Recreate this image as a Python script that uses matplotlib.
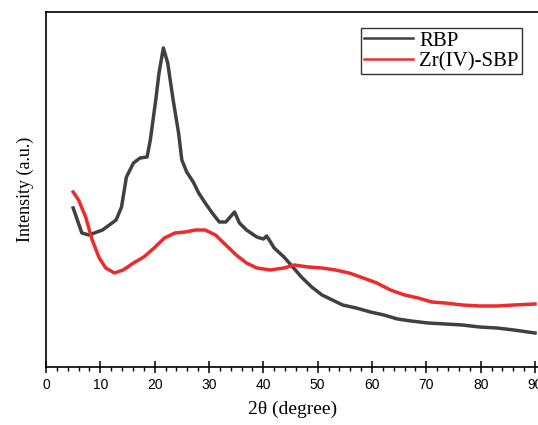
import matplotlib
matplotlib.use("Agg")
import matplotlib.pyplot as plt
from matplotlib.ticker import MultipleLocator

# RBP curve (2theta, intensity in arbitrary units)
rbp_x = [5.0, 6.6, 7.9, 10.4, 12.9, 13.9, 14.8, 16.1, 17.3, 18.6, 19.2, 20.2, 20.8, 21.6,
         22.4, 23.4, 24.4, 25.0, 25.9, 27.1, 28.1, 29.3, 30.6, 31.9, 33.1, 34.7, 35.6, 36.9,
         38.8, 40.0, 40.6, 41.2, 42.0, 43.8, 45.1, 47.0, 48.9, 50.8, 52.7, 54.6, 57.1, 59.7,
         62.2, 64.7, 67.2, 70.3, 73.5, 76.6, 79.8, 83.0, 86.1, 90.0]
rbp_y = [159, 134, 132, 137, 147, 160, 190, 204, 209, 210, 227, 267, 294, 319,
         304, 267, 234, 207, 195, 185, 174, 164, 154, 145, 145, 155, 144, 137,
         130, 128, 131, 126, 119, 110, 102, 90, 80, 72, 67, 62, 59, 55,
         52, 48, 46, 44, 43, 42, 40, 39, 37, 34]

# Zr(IV)-SBP curve
zr_x = [5.0, 6.0, 7.3, 8.5, 9.8, 11.0, 12.6, 14.2, 16.1, 18.0, 19.9, 21.8, 23.7, 25.6,
        27.5, 29.3, 31.2, 33.1, 35.0, 36.9, 38.8, 41.3, 43.8, 45.7, 48.3, 50.8, 53.3, 55.8,
        58.4, 60.9, 63.4, 66.0, 68.5, 71.0, 73.5, 76.6, 79.8, 83.0, 86.1, 90.0]
zr_y = [175, 167, 150, 127, 109, 99, 94, 97, 104, 110, 119, 129, 134, 135,
        137, 137, 132, 122, 112, 104, 99, 97, 99, 102, 100, 99, 97, 94,
        89, 84, 77, 72, 69, 65, 64, 62, 61, 61, 62, 63]

labels = ["RBP", "Zr(IV)-SBP"]

fig = plt.figure(figsize=(5.38, 4.25), dpi=100)
# 0 at x=46px, 90 at x=535px; bottom at y=367px, top at y=12px
px_per_unit = (535 - 46) / 90.0
x_max = 90.7
ax_w = x_max * px_per_unit
ax = fig.add_axes([46 / 538, (425 - 367) / 425, ax_w / 538, (367 - 12) / 425])

ax.plot(rbp_x, rbp_y, color="#404040", lw=2.5, label=labels[0])
ax.plot(zr_x, zr_y, color="#ee2a2a", lw=2.5, label=labels[1])

ax.set_xlim(0, x_max)
ax.set_ylim(0, 355)
ax.xaxis.set_major_locator(MultipleLocator(10))
ax.xaxis.set_minor_locator(MultipleLocator(2))
ax.set_yticks([])
ax.tick_params(axis="x", which="major", direction="inout", length=8, width=1.1,
               labelsize=10, pad=4)
ax.tick_params(axis="x", which="minor", direction="out", length=3, width=1.0)
for lab in ax.get_xticklabels():
    lab.set_family("Liberation Sans")
for s in ax.spines.values():
    s.set_linewidth(1.2)

serif = "Liberation Serif"
ax.set_xlabel("2θ (degree)", family=serif, fontsize=14, labelpad=6)
ax.set_ylabel("Intensity (a.u.)", family=serif, fontsize=13, labelpad=9)

# legend box: left edge ~361px, top ~28px
leg = ax.legend(loc="upper left", bbox_to_anchor=((361 - 46) / ax_w, 1 - (28 - 12) / 355),
                prop={"family": serif, "size": 15}, fancybox=False, framealpha=1,
                edgecolor="#333333", handlelength=2.35, borderpad=0.15, labelspacing=0.05,
                handletextpad=0.3, borderaxespad=0)
leg.get_frame().set_linewidth(1.0)
for ln in leg.get_lines():
    ln.set_linewidth(1.8)

fig.savefig("out.png", dpi=100)
